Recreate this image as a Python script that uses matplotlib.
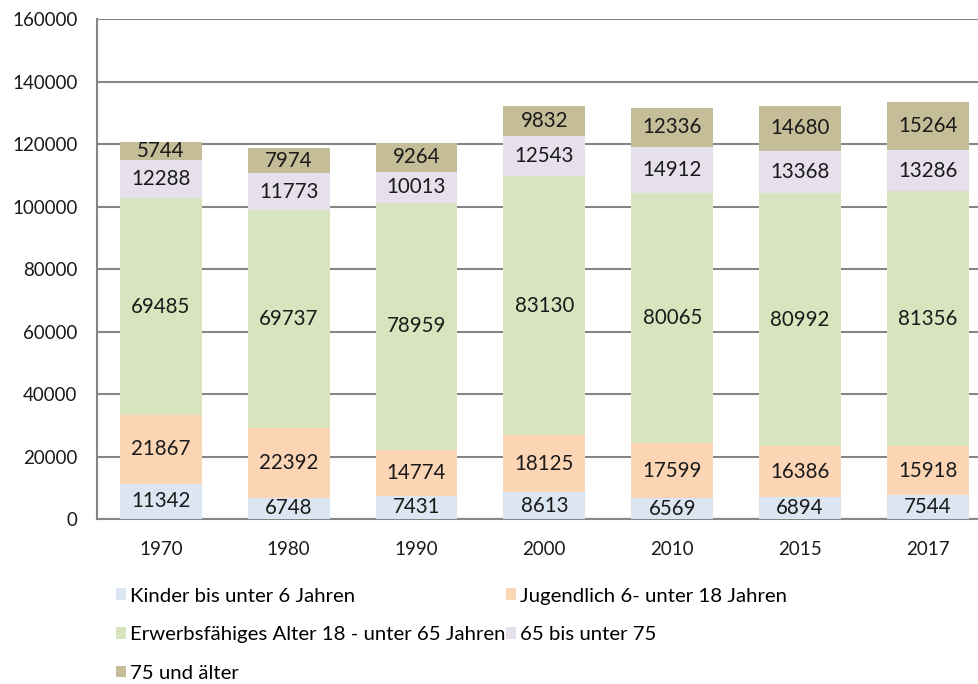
import numpy as np
from matplotlib import pyplot as plt
from matplotlib.patches import Patch

plt.rcParams['font.family'] = ['Lato', 'DejaVu Sans']

# data
years = ['1970', '1980', '1990', '2000', '2010', '2015', '2017']
kinder = [11342, 6748, 7431, 8613, 6569, 6894, 7544]
jugendlich = [21867, 22392, 14774, 18125, 17599, 16386, 15918]
erwerb = [69485, 69737, 78959, 83130, 80065, 80992, 81356]
senioren = [12288, 11773, 10013, 12543, 14912, 13368, 13286]
hochbetagt = [5744, 7974, 9264, 9832, 12336, 14680, 15264]

labels = ['Kinder bis unter 6 Jahren', 'Jugendlich 6- unter 18 Jahren',
          'Erwerbsfähiges Alter 18 - unter 65 Jahren', '65 bis unter 75',
          '75 und älter']
colors = ['#DCE6F2', '#FCD5B5', '#D7E4BD', '#E6E0EC', '#C4BD97']

fig = plt.figure(figsize=(9.79, 6.84), dpi=100)
ax = fig.add_axes([0.099, 0.2412, 0.901, 0.7310])

x = np.arange(len(years))
bottom = np.zeros(len(years))
for series, color in zip([kinder, jugendlich, erwerb, senioren, hochbetagt], colors):
    vals = np.array(series)
    ax.bar(x, vals, width=0.64, bottom=bottom, color=color, zorder=3)
    for xi, b, v in zip(x, bottom, vals):
        ax.text(xi, b + v / 2, str(v), ha='center', va='center',
                fontsize=14.8, color='#1a1a1a', zorder=4)
    bottom += vals

ax.set_xlim(-0.5, 6.4)
ax.set_ylim(0, 160000)
ax.set_yticks(range(0, 160001, 20000))
ax.set_xticks(x)
ax.set_xticklabels(years)
ax.tick_params(axis='both', length=0, labelsize=13.5, colors='#1a1a1a')
ax.tick_params(axis='y', pad=14)
ax.tick_params(axis='x', pad=16)
ax.yaxis.grid(True, color='#868686', linewidth=1.5, zorder=0)
ax.set_axisbelow(True)
for side in ['top', 'right']:
    ax.spines[side].set_visible(False)
for side in ['left', 'bottom']:
    ax.spines[side].set_color('#868686')
    ax.spines[side].set_linewidth(1.5)

# legend rows in reading order, matplotlib fills columns first
handles = [Patch(facecolor=c) for c in colors]
order = [0, 2, 4, 1, 3]
fig.legend([handles[i] for i in order], [labels[i] for i in order],
           ncol=2, frameon=False, loc='upper left',
           bbox_to_anchor=(0.1185, 0.141), fontsize=14.7,
           handlelength=0.5, handleheight=0.5, handletextpad=0.2,
           labelspacing=1.06, columnspacing=0.0, borderpad=0, borderaxespad=0)

plt.savefig('out.png', dpi=100)
